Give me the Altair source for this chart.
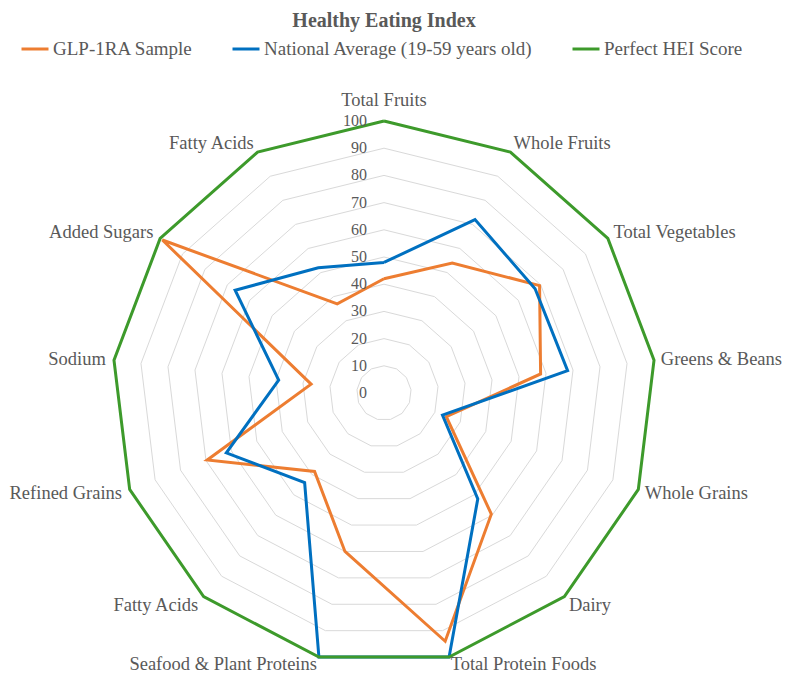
import altair as alt
import pandas as pd

categories = ["Total Fruits", "Whole Fruits", "Total Vegetables", "Greens & Beans",
              "Whole Grains", "Dairy", "Total Protein Foods", "Seafood & Plant Proteins",
              "Fatty Acids", "Refined Grains", "Sodium", "Added Sugars", "Fatty Acids"]
glp_sample = [42, 54, 69.5, 58, 24.5, 59.5, 94, 60, 38.5, 69.5, 27, 99, 37]
national_avg = [48, 72, 67.5, 68, 23, 52, 100, 100, 44, 62, 39, 66.5, 52]
perfect_score = [100, 100, 100, 100, 100, 100, 100, 100, 100, 100, 100, 100, 100]
series_names = ["GLP-1RA Sample", "National Average (19-59 years old)", "Perfect HEI Score"]
series_colors = ["#ED7D31", "#0070C0", "#3D9A2B"]
ring_levels = [10, 20, 30, 40, 50, 60, 70, 80, 90, 100]
tick_values = [0, 10, 20, 30, 40, 50, 60, 70, 80, 90, 100]

N = len(categories)
FONT = "Liberation Serif, Times New Roman, DejaVu Serif, serif"
GRAY = "#595959"

rows = []
for name, vals in zip(series_names, [glp_sample, national_avg, perfect_score]):
    for i in range(N + 1):
        rows.append({"series": name, "idx": i, "value": vals[i % N]})
lines_df = pd.DataFrame(rows)

ring_rows = []
for lv in ring_levels:
    for i in range(N + 1):
        ring_rows.append({"level": lv, "idx": i})
rings_df = pd.DataFrame(ring_rows)

cat_df = pd.DataFrame({"label": categories, "idx": list(range(N))})
tick_df = pd.DataFrame({"level": tick_values, "lab": [str(t) for t in tick_values]})

xs = alt.Scale(domain=[-138.235, 138.235], nice=False, zero=False)
ys = alt.Scale(domain=[-104.78, 104.78], nice=False, zero=False)

def polar(chart, rx, ry):
    return chart.transform_calculate(
        ang=f"datum.idx*2*PI/{N}"
    ).transform_calculate(
        px=f"({rx})*sin(datum.ang)",
        py=f"({ry})*cos(datum.ang)",
    )

rings = polar(alt.Chart(rings_df), "datum.level", "datum.level").mark_line(
    color="#D9D9D9", strokeWidth=1
).encode(
    x=alt.X("px:Q", scale=xs, axis=None),
    y=alt.Y("py:Q", scale=ys, axis=None),
    detail="level:N",
    order="idx:Q",
)

lines = polar(alt.Chart(lines_df), "datum.value", "datum.value").mark_line(strokeWidth=3).encode(
    x=alt.X("px:Q", scale=xs, axis=None),
    y=alt.Y("py:Q", scale=ys, axis=None),
    color=alt.Color(
        "series:N",
        scale=alt.Scale(domain=series_names, range=series_colors),
        legend=alt.Legend(
            orient="none", legendX=12, legendY=-74, direction="horizontal",
            title=None, symbolType="stroke", symbolStrokeWidth=3, symbolSize=729,
            labelFont=FONT, labelFontSize=19, labelColor=GRAY, labelOffset=3,
            columnPadding=33, labelLimit=400,
        ),
    ),
    order="idx:Q",
)

ticks = alt.Chart(tick_df).transform_calculate(px="0", py="datum.level").mark_text(
    align="right", baseline="middle", dx=-17, font=FONT, fontSize=16, color=GRAY
).encode(
    x=alt.X("px:Q", scale=xs, axis=None),
    y=alt.Y("py:Q", scale=ys, axis=None),
    text="lab:N",
)

RY = "cos(datum.ang) < -0.9 ? 102.5 : 104"

def cat_layer(filt, rx, align, baseline):
    return polar(alt.Chart(cat_df), rx, RY).transform_filter(filt).mark_text(
        align=align, baseline=baseline, font=FONT, fontSize=18.5, color=GRAY
    ).encode(
        x=alt.X("px:Q", scale=xs, axis=None),
        y=alt.Y("py:Q", scale=ys, axis=None),
        text="label:N",
    )

cat_left = cat_layer("sin(datum.ang) > 0.1", "102.5", "left", "middle")
cat_right = cat_layer("sin(datum.ang) < -0.1", "103", "right", "middle")
cat_top = cat_layer("abs(sin(datum.ang)) <= 0.1", "104", "center", "bottom")

chart = alt.layer(
    rings, lines, ticks, cat_left, cat_right, cat_top
).properties(
    width=752, height=570,
    autosize=alt.AutoSizeParams(type="none"),
    padding={"left": 0, "top": 100, "right": 22, "bottom": 0},
    title=alt.TitleParams(
        "Healthy Eating Index", font=FONT, fontSize=20, fontWeight="bold",
        color=GRAY, anchor="middle", frame="group", offset=3,
    ),
).configure_view(stroke=None)

chart.save("out.html", embed_options={"renderer": "svg", "actions": False})
